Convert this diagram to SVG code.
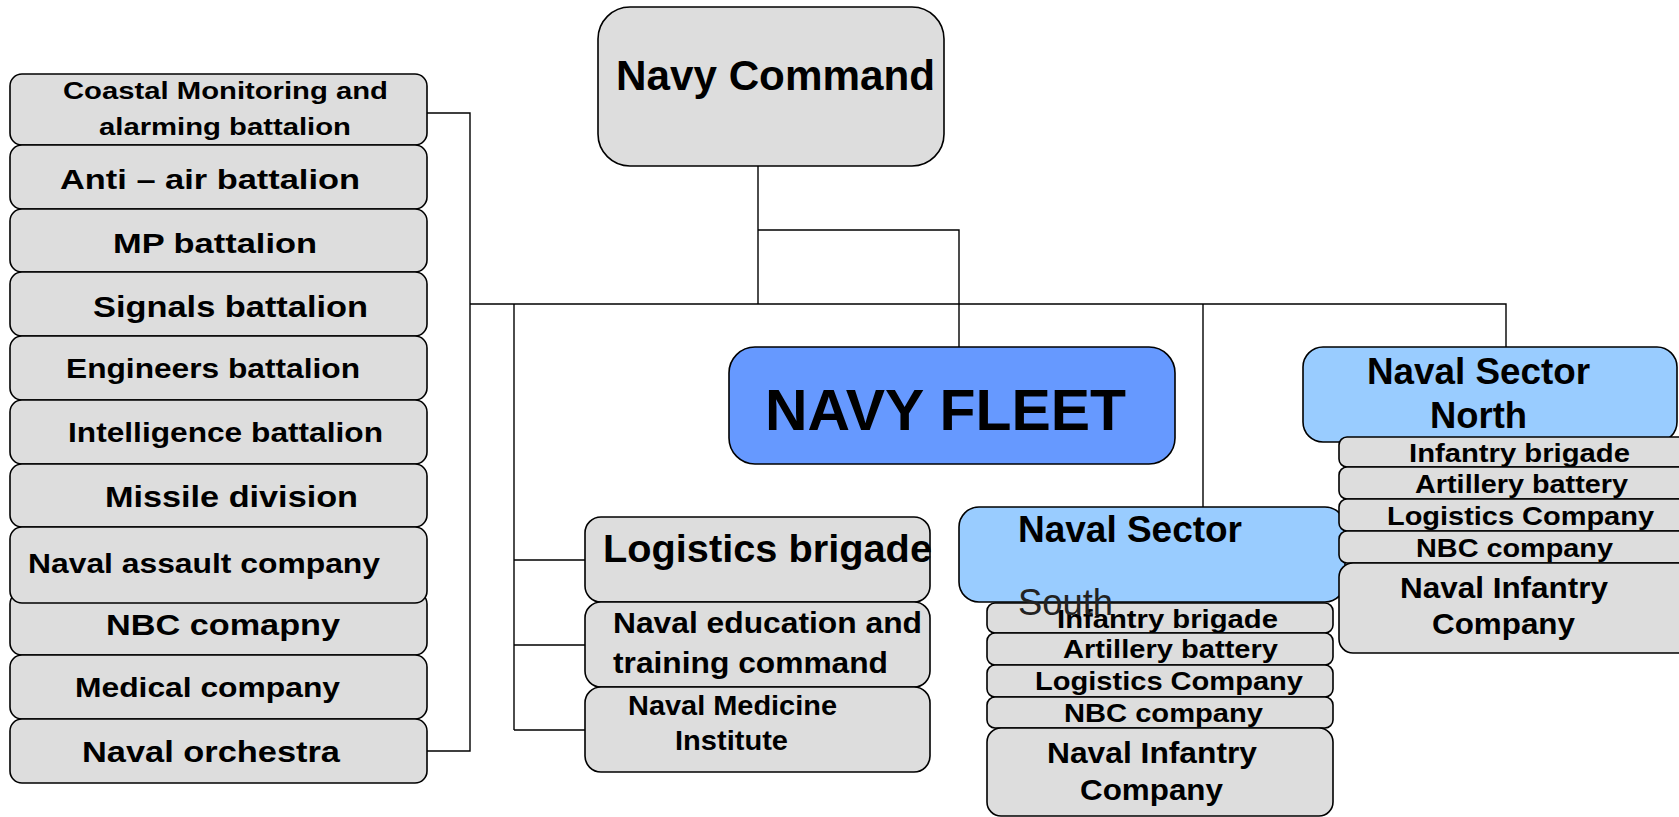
<svg xmlns="http://www.w3.org/2000/svg" width="1679" height="817" viewBox="0 0 1679 817">
<style>
.g{fill:#DDDDDD;stroke:#000;stroke-width:1.6}
.fleet{fill:#6699FF;stroke:#000;stroke-width:1.6}
.sec{fill:#99CCFF;stroke:#000;stroke-width:1.6}
.c{fill:none;stroke:#000;stroke-width:1.4}
text{font-family:"Liberation Sans",Arial,sans-serif;font-weight:bold;fill:#000}
.n{font-weight:normal;fill:#222}
</style>
<rect width="1679" height="817" fill="#fff"/>
<g id="connectors">
<path class="c" d="M427,113 H470 V751 H427"/>
<path class="c" d="M470,304 H1506 V347"/>
<path class="c" d="M758,166 V304"/>
<path class="c" d="M758,230 H959 V347"/>
<path class="c" d="M1203,304 V507"/>
<path class="c" d="M514,304 V730"/>
<path class="c" d="M514,560 H585 M514,645 H585 M514,730 H585"/>
</g>
<g id="navy-command">
<rect class="g" x="598" y="7" width="346" height="159" rx="32"/>
<text x="616" y="90" font-size="42" textLength="319" lengthAdjust="spacingAndGlyphs">Navy Command</text>
</g>
<g id="coastal">
<rect class="g" x="10" y="74" width="417" height="71" rx="12"/>
<text x="63" y="99" font-size="23" textLength="325" lengthAdjust="spacingAndGlyphs">Coastal Monitoring and</text>
<text x="99" y="135" font-size="24" textLength="252" lengthAdjust="spacingAndGlyphs">alarming battalion</text>
</g>
<g id="anti-air">
<rect class="g" x="10" y="145" width="417" height="64" rx="12"/>
<text x="60" y="189" font-size="27" textLength="300" lengthAdjust="spacingAndGlyphs">Anti – air battalion</text>
</g>
<g id="mp">
<rect class="g" x="10" y="209" width="417" height="63" rx="12"/>
<text x="113" y="253" font-size="28" textLength="204" lengthAdjust="spacingAndGlyphs">MP battalion</text>
</g>
<g id="signals">
<rect class="g" x="10" y="272" width="417" height="64" rx="12"/>
<text x="93" y="317" font-size="29" textLength="275" lengthAdjust="spacingAndGlyphs">Signals battalion</text>
</g>
<g id="engineers">
<rect class="g" x="10" y="336" width="417" height="64" rx="12"/>
<text x="66" y="378" font-size="27" textLength="294" lengthAdjust="spacingAndGlyphs">Engineers battalion</text>
</g>
<g id="intelligence">
<rect class="g" x="10" y="400" width="417" height="64" rx="12"/>
<text x="68" y="442" font-size="27" textLength="315" lengthAdjust="spacingAndGlyphs">Intelligence battalion</text>
</g>
<g id="missile">
<rect class="g" x="10" y="464" width="417" height="63" rx="12"/>
<text x="105" y="507" font-size="29" textLength="253" lengthAdjust="spacingAndGlyphs">Missile division</text>
</g>
<g id="nbc-left">
<rect class="g" x="10" y="592" width="417" height="63" rx="12"/>
<text x="106" y="635" font-size="29" textLength="234" lengthAdjust="spacingAndGlyphs">NBC comapny</text>
</g>
<g id="assault">
<rect class="g" x="10" y="527" width="417" height="76" rx="12"/>
<text x="28" y="573" font-size="27" textLength="352" lengthAdjust="spacingAndGlyphs">Naval assault company</text>
</g>
<g id="medical">
<rect class="g" x="10" y="655" width="417" height="64" rx="12"/>
<text x="75" y="697" font-size="28" textLength="265" lengthAdjust="spacingAndGlyphs">Medical company</text>
</g>
<g id="orchestra">
<rect class="g" x="10" y="719" width="417" height="64" rx="12"/>
<text x="82" y="762" font-size="30" textLength="258" lengthAdjust="spacingAndGlyphs">Naval orchestra</text>
</g>
<g id="navy-fleet">
<rect class="fleet" x="729" y="347" width="446" height="117" rx="26"/>
<text x="765" y="430" font-size="57" textLength="361" lengthAdjust="spacingAndGlyphs">NAVY FLEET</text>
</g>
<g id="logistics-brigade">
<rect class="g" x="585" y="517" width="345" height="85" rx="16"/>
<text x="603" y="562" font-size="39" textLength="329" lengthAdjust="spacingAndGlyphs">Logistics brigade</text>
</g>
<g id="education">
<rect class="g" x="585" y="602" width="345" height="85" rx="16"/>
<text x="613" y="633" font-size="29" textLength="309" lengthAdjust="spacingAndGlyphs">Naval education and</text>
<text x="613" y="673" font-size="29" textLength="275" lengthAdjust="spacingAndGlyphs">training command</text>
</g>
<g id="medicine">
<rect class="g" x="585" y="687" width="345" height="85" rx="16"/>
<text x="628" y="715" font-size="28" textLength="209" lengthAdjust="spacingAndGlyphs">Naval Medicine</text>
<text x="675" y="750" font-size="28" textLength="113" lengthAdjust="spacingAndGlyphs">Institute</text>
</g>
<g id="sector-south">
<rect class="sec" x="959" y="507" width="386" height="95" rx="20"/>
<text x="1018" y="542" font-size="36" textLength="224" lengthAdjust="spacingAndGlyphs">Naval Sector</text>
</g>
<g id="south-infantry">
<rect class="g" x="987" y="603" width="346" height="30" rx="8"/>
<text x="1057" y="628" font-size="25" textLength="221" lengthAdjust="spacingAndGlyphs">Infantry brigade</text>
</g>
<g id="south-artillery">
<rect class="g" x="987" y="633" width="346" height="32" rx="8"/>
<text x="1063" y="658" font-size="25" textLength="215" lengthAdjust="spacingAndGlyphs">Artillery battery</text>
</g>
<g id="south-logistics">
<rect class="g" x="987" y="665" width="346" height="32" rx="8"/>
<text x="1035" y="690" font-size="25" textLength="268" lengthAdjust="spacingAndGlyphs">Logistics Company</text>
</g>
<g id="south-nbc">
<rect class="g" x="987" y="697" width="346" height="31" rx="8"/>
<text x="1064" y="722" font-size="25" textLength="199" lengthAdjust="spacingAndGlyphs">NBC company</text>
</g>
<g id="south-naval-infantry">
<rect class="g" x="987" y="728" width="346" height="88" rx="14"/>
<text x="1047" y="763" font-size="30" textLength="210" lengthAdjust="spacingAndGlyphs">Naval Infantry</text>
<text x="1080" y="800" font-size="30" textLength="143" lengthAdjust="spacingAndGlyphs">Company</text>
</g>
<text class="n" x="1018" y="615" font-size="36" textLength="95" lengthAdjust="spacingAndGlyphs">South</text>
<g id="sector-north">
<rect class="sec" x="1303" y="347" width="374" height="95" rx="20"/>
<text x="1367" y="384" font-size="36" textLength="223" lengthAdjust="spacingAndGlyphs">Naval Sector</text>
<text x="1430" y="428" font-size="36" textLength="97" lengthAdjust="spacingAndGlyphs">North</text>
</g>
<g id="north-infantry">
<rect class="g" x="1339" y="437" width="360" height="30" rx="8"/>
<text x="1409" y="462" font-size="25" textLength="221" lengthAdjust="spacingAndGlyphs">Infantry brigade</text>
</g>
<g id="north-artillery">
<rect class="g" x="1339" y="467" width="360" height="32" rx="8"/>
<text x="1415" y="493" font-size="25" textLength="213" lengthAdjust="spacingAndGlyphs">Artillery battery</text>
</g>
<g id="north-logistics">
<rect class="g" x="1339" y="499" width="360" height="32" rx="8"/>
<text x="1387" y="525" font-size="25" textLength="267" lengthAdjust="spacingAndGlyphs">Logistics Company</text>
</g>
<g id="north-nbc">
<rect class="g" x="1339" y="531" width="360" height="32" rx="8"/>
<text x="1416" y="557" font-size="25" textLength="197" lengthAdjust="spacingAndGlyphs">NBC company</text>
</g>
<g id="north-naval-infantry">
<rect class="g" x="1339" y="563" width="360" height="90" rx="14"/>
<text x="1400" y="598" font-size="30" textLength="208" lengthAdjust="spacingAndGlyphs">Naval Infantry</text>
<text x="1432" y="634" font-size="30" textLength="143" lengthAdjust="spacingAndGlyphs">Company</text>
</g>
</svg>
